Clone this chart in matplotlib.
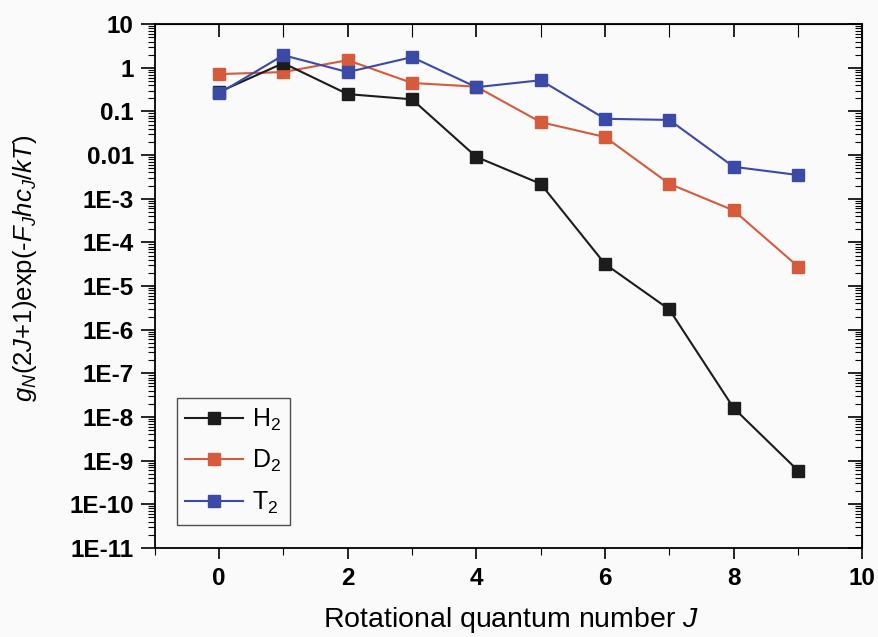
import matplotlib
matplotlib.use("Agg")
import matplotlib.pyplot as plt
from matplotlib.ticker import LogLocator, FixedLocator, NullFormatter, MultipleLocator

plt.rcParams['font.family'] = ['Liberation Sans', 'DejaVu Sans']
plt.rcParams['mathtext.fontset'] = 'custom'
plt.rcParams['mathtext.rm'] = 'Liberation Sans'
plt.rcParams['mathtext.it'] = 'Liberation Sans:italic'
plt.rcParams['mathtext.bf'] = 'Liberation Sans:bold'

# rotational quantum number J
J = [0, 1, 2, 3, 4, 5, 6, 7, 8, 9]

h2 = [0.28, 1.28, 0.25, 0.19, 0.0091, 0.0022, 3.2e-5, 2.9e-6, 1.6e-8, 5.9e-10]
d2 = [0.72, 0.80, 1.5, 0.45, 0.37, 0.057, 0.026, 0.0022, 5.4e-4, 2.8e-5]
t2 = [0.26, 1.95, 0.80, 1.76, 0.36, 0.52, 0.068, 0.064, 0.0054, 0.0035]

ytick_vals = [10.0 ** e for e in range(1, -12, -1)]
ytick_labels = ["10", "1", "0.1", "0.01", "1E-3", "1E-4", "1E-5", "1E-6",
                "1E-7", "1E-8", "1E-9", "1E-10", "1E-11"]

fig = plt.figure(figsize=(8.79, 6.37), dpi=100)
fig.patch.set_facecolor('#fafafa')
ax = fig.add_axes([0.176, 0.140, 0.805, 0.822])
ax.set_facecolor('#fafafa')

style = dict(marker='s', markersize=9, linewidth=1.5)
ax.plot(J, h2, color='#1c1c1c', label='H$_2$', zorder=3, **style)
ax.plot(J, d2, color='#d65a3c', label='D$_2$', zorder=2, **style)
ax.plot(J, t2, color='#3a4aa6', label='T$_2$', zorder=4, **style)

ax.set_yscale('log')
ax.set_xlim(-1, 10)
ax.set_ylim(1e-11, 10)

ax.xaxis.set_major_locator(FixedLocator([0, 2, 4, 6, 8, 10]))
ax.xaxis.set_minor_locator(MultipleLocator(1))
ax.yaxis.set_major_locator(FixedLocator(ytick_vals))
ax.set_yticklabels(ytick_labels)
ax.yaxis.set_minor_locator(LogLocator(base=10, subs=range(2, 10), numticks=50))
ax.yaxis.set_minor_formatter(NullFormatter())

ax.tick_params(axis='y', which='major', direction='out', length=10, width=1.2,
               labelsize=17.5, pad=5)
ax.tick_params(axis='x', which='major', direction='out', length=8, width=1.2,
               labelsize=17.5, pad=6)
ax.tick_params(axis='y', which='minor', direction='out', length=5, width=0.8)
ax.tick_params(axis='x', which='minor', direction='out', length=5, width=0.8)
for lab in ax.get_yticklabels() + ax.get_xticklabels():
    lab.set_fontweight('bold')

for sp in ax.spines.values():
    sp.set_linewidth(1.3)

# mirrored ticks on top and right, pointing inward
top = ax.secondary_xaxis('top')
top.xaxis.set_major_locator(FixedLocator([0, 2, 4, 6, 8, 10]))
top.xaxis.set_minor_locator(MultipleLocator(1))
top.tick_params(which='major', direction='in', length=9, width=1.2, labeltop=False)
top.tick_params(which='minor', direction='in', length=9, width=0.8)
right = ax.secondary_yaxis('right')
right.yaxis.set_major_locator(FixedLocator(ytick_vals))
right.yaxis.set_minor_locator(LogLocator(base=10, subs=range(2, 10), numticks=50))
right.yaxis.set_minor_formatter(NullFormatter())
right.tick_params(which='major', direction='in', length=10, width=1.2, labelright=False)
right.tick_params(which='minor', direction='in', length=5, width=0.8)

ax.set_xlabel('Rotational quantum number $J$', fontsize=20.5)
ax.xaxis.set_label_coords(0.504, -0.11)
ax.set_ylabel('$g_N$(2$J$+1)exp(-$F_J hc_J/kT$)', fontsize=18.5)
ax.yaxis.set_label_coords(-0.163, 0.534)

leg = ax.legend(loc='lower left', bbox_to_anchor=(0.031, 0.044), fontsize=18,
                frameon=True, fancybox=False, borderpad=0.35, labelspacing=0.62,
                handlelength=2.3, handletextpad=0.35, borderaxespad=0)
leg.get_frame().set_edgecolor('#222222')
leg.get_frame().set_linewidth(1.0)
leg.get_frame().set_facecolor('#fafafa')

fig.savefig('out.png', dpi=100, facecolor=fig.get_facecolor())
